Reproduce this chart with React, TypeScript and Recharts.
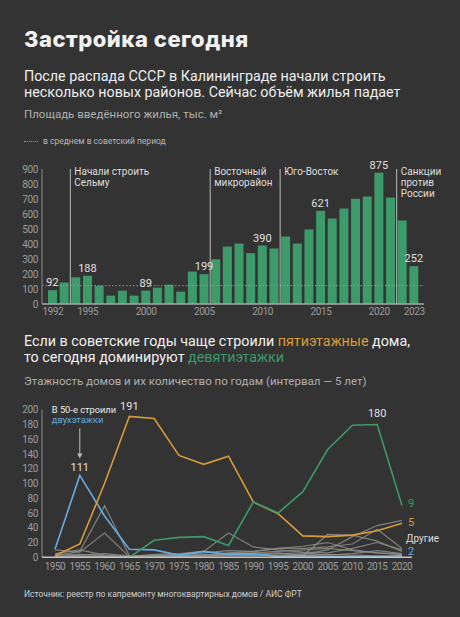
import React from "react";
import {
  BarChart,
  Bar,
  XAxis,
  YAxis,
  ReferenceLine,
  ReferenceDot,
  LabelList,
  Label,
  LineChart,
  Line,
} from "recharts";

// Застройка Калининграда: ввод жилья по годам + этажность домов по пятилеткам

const barYears = [
  "1992", "1993", "1994", "1995", "1996", "1997", "1998", "1999", "2000", "2001", "2002",
  "2003", "2004", "2005", "2006", "2007", "2008", "2009", "2010", "2011", "2012", "2013",
  "2014", "2015", "2016", "2017", "2018", "2019", "2020", "2021", "2022", "2023",
];
const areaBuilt = [
  92, 143, 178, 188, 122, 56, 89, 56, 89, 109, 129, 82, 216, 199, 298, 383, 403, 339, 390,
  370, 450, 403, 497, 621, 570, 637, 702, 717, 875, 710, 557, 252,
];
const labeledYears = ["1992", "1995", "2000", "2005", "2010", "2015", "2020", "2023"];
const barTickYears = ["1992", "1995", "2000", "2005", "2010", "2015", "2020", "2023"];
const sovietAverage = 122;
const barYTicks = [0, 100, 200, 300, 400, 500, 600, 700, 800, 900];

const eventYears = ["1994", "2006", "2012", "2022"];
const eventTexts = [
  ["Начали строить", "Сельму"],
  ["Восточный", "микрорайон"],
  ["Юго-Восток"],
  ["Санкции", "против", "России"],
];

const lineYears = [1950, 1955, 1960, 1965, 1970, 1975, 1980, 1985, 1990, 1995, 2000, 2005, 2010, 2015, 2020];
const twoStorey = [11, 111, 56, 11, 10, 3, 8, 4, 5, 1, 2, 1, 1, 1, 2];
const fiveStorey = [2, 18, 100, 191, 188, 138, 126, 137, 75, 59, 29, 28, 30, 36, 46];
const nineStorey = [null, null, null, 0, 23, 27, 28, 16, 75, 60, 89, 146, 179, 180, 70];
const otherA = [2, 8, 70, 2, 3, 3, 4, 4, 3, 2, 3, 4, 3, 2, 1];
const otherB = [10, 7, 33, 1, 2, 2, 3, 5, 6, 8, 10, 12, 9, 6, 4];
const otherC = [5, 10, 3, 1, 4, 5, 8, 33, 14, 10, 7, 6, 12, 20, 10];
const otherD = [0, 1, 1, 0, 1, 2, 2, 2, 2, 3, 4, 10, 28, 43, 50];
const otherE = [1, 2, 1, 0, 1, 1, 2, 3, 4, 6, 2, 31, 30, 22, 8];
const otherF = [0, 0, 1, 1, 2, 2, 3, 6, 8, 12, 12, 14, 18, 38, 12];
const otherG = [3, 4, 2, 1, 2, 4, 6, 9, 8, 12, 15, 20, 10, 6, 4];
const otherH = [1, 3, 5, 2, 1, 3, 2, 4, 3, 5, 6, 3, 5, 9, 5];
const lineYTicks = [0, 20, 40, 60, 80, 100, 120, 140, 160, 180, 200];

const GREEN = "#3c9a6b";
const ORANGE = "#d69d3a";
const BLUE = "#69acdf";
const GREY = "#8d8d89";
const TICK = "#9c9c9c";

const barData = barYears.map((y, i) => ({
  year: y,
  value: areaBuilt[i],
  label: labeledYears.includes(y) ? areaBuilt[i] : null,
}));

const others = [otherA, otherB, otherC, otherD, otherE, otherF, otherG, otherH];
const lineData = lineYears.map((y, i) => {
  const row: Record<string, number | null> = {
    year: y,
    two: twoStorey[i],
    five: fiveStorey[i],
    nine: nineStorey[i],
  };
  others.forEach((s, k) => (row["o" + k] = s[i]));
  return row;
});

const vb = (p: any) => p.viewBox ?? { x: p.x, y: p.y, width: p.width ?? 0, height: p.height ?? 0 };

function BarValue(p: any) {
  if (p.value == null) return null;
  const v = vb(p);
  return (
    <text x={v.x + v.width / 2} y={v.y - 4} textAnchor="middle" fill="#e0e0e0" fontSize={11}>
      {p.value}
    </text>
  );
}

function eventLabel(lines: string[]) {
  return (p: any) => {
    const v = vb(p);
    return (
      <text x={v.x + 4} y={v.y + 6} fill="#dedede" fontSize={10}>
        {lines.map((t, i) => (
          <tspan key={i} x={v.x + 4} dy={i === 0 ? 0 : 11}>
            {t}
          </tspan>
        ))}
      </text>
    );
  };
}

function peakLabel(idx: number, text: string, color: string, dx = 0, dy = -5) {
  return (p: any) => {
    const v = vb(p);
    if (p.index !== idx) return null;
    return (
      <text x={v.x + dx} y={v.y + dy} textAnchor="middle" fill={color} fontSize={11}>
        {text}
      </text>
    );
  };
}

function endLabel(idx: number, text: string, color: string, dy = 0) {
  return (p: any) => {
    const v = vb(p);
    if (p.index !== idx) return null;
    return (
      <text x={v.x + 6} y={v.y + dy} dominantBaseline="middle" fill={color} fontSize={11}>
        {text}
      </text>
    );
  };
}

function TwoStoreyLabel(p: any) {
  const v = vb(p);
  if (p.index === 1) {
    return (
      <g>
        <text x={v.x} y={v.y - 4} textAnchor="middle" fill="#e0e0e0" fontSize={11}>
          111
        </text>
        <line x1={v.x} y1={v.y - 47} x2={v.x} y2={v.y - 20} stroke="#bdbdbd" strokeWidth={1} />
        <path d={`M${v.x - 2.5},${v.y - 22} L${v.x},${v.y - 17} L${v.x + 2.5},${v.y - 22} Z`} fill="#bdbdbd" />
        <text x={v.x - 28} y={v.y - 62} fill="#eeeeee" fontSize={9.3}>
          В 50-е строили
        </text>
        <text x={v.x - 28} y={v.y - 52} fill={BLUE} fontSize={9.3}>
          двухэтажки
        </text>
      </g>
    );
  }
  if (p.index === lineYears.length - 1) {
    return (
      <text x={v.x + 6} y={v.y - 4} dominantBaseline="middle" fill={BLUE} fontSize={11}>
        2
      </text>
    );
  }
  return null;
}

export default function App() {
  return (
    <div
      style={{
        position: "absolute",
        left: 0,
        top: 0,
        width: 460,
        height: 617,
        background: "#333333",
        fontFamily: "Roboto, sans-serif",
        color: "#eeeeee",
        overflow: "hidden",
      }}
    >
      <div style={{ position: "absolute", left: 24, top: 26, fontFamily: "Inter, sans-serif", fontWeight: 800, fontSize: 22, letterSpacing: 0.5, lineHeight: "26px", color: "#f2f2f2" }}>
        Застройка сегодня
      </div>
      <div style={{ position: "absolute", left: 24, top: 68, fontSize: 14.3, lineHeight: "16px", width: 430 }}>
        После распада СССР в Калининграде начали строить
        <br />
        несколько новых районов. Сейчас объём жилья падает
      </div>
      <div style={{ position: "absolute", left: 24, top: 107, fontSize: 11.5, lineHeight: "14px", color: "#b0b0b0" }}>
        Площадь введённого жилья, тыс. м²
      </div>
      <div style={{ position: "absolute", left: 24, top: 136, fontSize: 8.5, lineHeight: "10px", color: "#b8b8b8", display: "flex", alignItems: "center" }}>
        <span style={{ display: "inline-block", width: 14, borderTop: "1px dotted #999", marginRight: 5 }} />
        в среднем в советский период
      </div>

      <div style={{ position: "absolute", left: 0, top: 150 }}>
        <BarChart width={460} height={170} data={barData} margin={{ top: 19, right: 36, bottom: 0, left: 0 }} barSize={9}>
          <YAxis
            width={42}
            domain={[0, 900]}
            ticks={barYTicks}
            tickSize={0}
            tickMargin={4}
            tick={{ fill: TICK, fontSize: 10, letterSpacing: -0.4 }}
            axisLine={{ stroke: "#8a8a8a" }}
            interval={0}
          />
          <XAxis
            dataKey="year"
            height={16}
            interval={0}
            tickSize={0}
            tickMargin={4}
            padding={{ left: 5, right: 4 }}
            tickFormatter={(y: string) => (barTickYears.includes(y) ? y : "")}
            tick={{ fill: TICK, fontSize: 10, letterSpacing: -0.4 }}
            axisLine={{ stroke: "#a8a8a8", strokeWidth: 1.5 }}
          />
          <ReferenceLine y={sovietAverage} stroke="#9a9a9a" strokeDasharray="1.5 2" />
          {eventYears.map((y, i) => (
            <ReferenceLine key={y} x={y} position="start" stroke="#bdbdbd" strokeWidth={1}>
              <Label content={eventLabel(eventTexts[i])} />
            </ReferenceLine>
          ))}
          <Bar dataKey="value" fill={GREEN} isAnimationActive={false}>
            <LabelList dataKey="label" content={BarValue} />
          </Bar>
        </BarChart>
      </div>

      <div style={{ position: "absolute", left: 24, top: 333, fontSize: 14.3, lineHeight: "16px", color: "#f0f0f0" }}>
        Если в советские годы чаще строили <span style={{ color: ORANGE }}>пятиэтажные</span> дома,
        <br />
        то сегодня доминируют <span style={{ color: GREEN }}>девятиэтажки</span>
      </div>
      <div style={{ position: "absolute", left: 24, top: 374, fontSize: 11.5, lineHeight: "14px", color: "#b0b0b0" }}>
        Этажность домов и их количество по годам (интервал — 5 лет)
      </div>

      <div style={{ position: "absolute", left: 0, top: 395 }}>
        <LineChart width={460} height={180} data={lineData} margin={{ top: 14.7, right: 48, bottom: 0, left: 0 }}>
          <YAxis
            width={42}
            domain={[0, 200]}
            ticks={lineYTicks}
            interval={0}
            tickSize={0}
            tickMargin={4}
            tick={{ fill: TICK, fontSize: 10, letterSpacing: -0.4 }}
            axisLine={{ stroke: "#8a8a8a" }}
          />
          <XAxis
            dataKey="year"
            height={17.7}
            interval={0}
            tickSize={0}
            tickMargin={6}
            padding={{ left: 13, right: 10 }}
            tick={{ fill: TICK, fontSize: 10, letterSpacing: -0.5 }}
            axisLine={{ stroke: "#c4c4c4", strokeWidth: 1.5 }}
          />
          {others.map((_, k) => (
            <Line
              key={k}
              dataKey={"o" + k}
              stroke={GREY}
              strokeWidth={1.2}
              strokeOpacity={0.85}
              dot={false}
              isAnimationActive={false}
            />
          ))}
          <Line dataKey="two" stroke={BLUE} strokeWidth={1.6} dot={false} isAnimationActive={false}>
            <LabelList content={TwoStoreyLabel} />
          </Line>
          <Line dataKey="five" stroke={ORANGE} strokeWidth={1.6} dot={false} isAnimationActive={false}>
            <LabelList content={peakLabel(3, "191", "#e0e0e0", 0, -6)} />
            <LabelList content={endLabel(14, "5", ORANGE, 0)} />
          </Line>
          <Line dataKey="nine" stroke={GREEN} strokeWidth={1.6} dot={false} isAnimationActive={false}>
            <LabelList content={peakLabel(13, "180", "#e0e0e0", 0, -7)} />
            <LabelList content={endLabel(14, "9", GREEN, -2)} />
          </Line>
          <ReferenceDot x={2020} y={26} r={0} stroke="none" fill="none">
            <Label value="Другие" position="right" offset={4} fill="#dcdcdc" fontSize={10} />
          </ReferenceDot>
        </LineChart>
      </div>

      <div style={{ position: "absolute", left: 24, top: 588, fontSize: 8.5, lineHeight: "12px", color: "#cfcfcf" }}>
        Источник: реестр по капремонту многоквартирных домов / АИС ФРТ
      </div>
    </div>
  );
}
